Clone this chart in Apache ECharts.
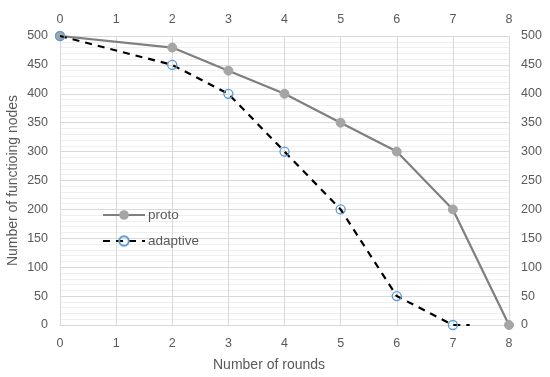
<!DOCTYPE html>
<html>
<head>
<meta charset="utf-8">
<script src="https://cdn.jsdelivr.net/npm/echarts@6/dist/echarts.min.js"></script>
<style>html,body{margin:0;padding:0;background:#fff}#c{width:550px;height:377px}</style>
</head>
<body>
<div id="c"></div>
<script>
const protoX = [0, 2, 3, 4, 5, 6, 7, 8];
const protoY = [500, 480, 440, 400, 350, 300, 200, 0];
const adaptiveX = [0, 2, 3, 4, 5, 6, 7, 7.3];
const adaptiveY = [500, 450, 400, 300, 200, 50, 0, 0];
const adaptiveMarker = [true, true, true, true, true, true, true, false];
const seriesNames = ['proto', 'adaptive'];
const xTitle = 'Number of rounds';
const yTitle = 'Number of functioing nodes';

const FONT = 'Liberation Sans';
const TXT = '#595959';
const chart = echarts.init(document.getElementById('c'), null, {renderer: 'canvas'});

const protoData = protoX.map((x, i) => [x, protoY[i]]);
const adaptiveData = adaptiveX.map((x, i) => adaptiveMarker[i]
  ? [x, adaptiveY[i]]
  : {value: [x, adaptiveY[i]], symbol: 'none'});

const labelStyle = {color: TXT, fontFamily: FONT, fontSize: 12.5};
const xBase = {
  type: 'value', min: 0, max: 8, interval: 1,
  axisLine: {show: true, lineStyle: {color: '#d9d9d9'}},
  splitLine: {show: true, lineStyle: {color: '#d9d9d9', width: 1}},
  axisLabel: Object.assign({margin: 12}, labelStyle)
};
const yBase = {
  type: 'value', min: 0, max: 500, interval: 50,
  axisLine: {show: true, lineStyle: {color: '#d9d9d9'}},
  splitLine: {show: true, lineStyle: {color: '#d9d9d9', width: 1}},
  minorTick: {show: false, splitNumber: 5},
  minorSplitLine: {show: true, lineStyle: {color: '#efefef', width: 1}},
  axisLabel: Object.assign({margin: 12}, labelStyle)
};

chart.setOption({
  animation: false,
  textStyle: {fontFamily: FONT},
  grid: {left: 60, right: 41, top: 36, bottom: 52, containLabel: false, outerBoundsMode: 'none'},
  xAxis: [
    Object.assign({}, xBase, {position: 'bottom', axisTick: {show: false}}),
    Object.assign({}, xBase, {position: 'top', axisTick: {show: true, length: 4, lineStyle: {color: '#d9d9d9'}},
      splitLine: {show: false}, axisLabel: Object.assign({margin: 10}, labelStyle)})
  ],
  yAxis: [
    Object.assign({}, yBase, {position: 'left', axisTick: {show: false},
      name: yTitle, nameLocation: 'middle', nameGap: 40, nameMoveOverlap: false,
      nameTextStyle: {color: TXT, fontFamily: FONT, fontSize: 14}}),
    Object.assign({}, yBase, {position: 'right', axisTick: {show: true, length: 4, lineStyle: {color: '#d9d9d9'}},
      splitLine: {show: false}, minorSplitLine: {show: false}, axisLabel: Object.assign({margin: 12}, labelStyle)})
  ],
  legend: {
    orient: 'vertical', left: 97, top: 203, itemWidth: 42, itemHeight: 12, itemGap: 12,
    textStyle: {color: TXT, fontFamily: FONT, fontSize: 13.5, padding: [0, 0, 0, -2]},
    data: seriesNames
  },
  graphic: [{
    type: 'text', left: 213, top: 358,
    style: {text: xTitle, fill: TXT, font: '14px "' + FONT + '"'}
  }],
  series: [
    {
      name: seriesNames[0], type: 'line', data: protoData, xAxisIndex: 0, yAxisIndex: 0,
      symbol: 'circle', symbolSize: 9, z: 2,
      lineStyle: {color: '#7f7f7f', width: 2.2},
      itemStyle: {color: '#a5a5a5', borderColor: '#a5a5a5'}
    },
    {
      name: seriesNames[1], type: 'line', data: adaptiveData, xAxisIndex: 0, yAxisIndex: 0,
      symbol: 'circle', symbolSize: 9, z: 3,
      lineStyle: {color: '#000000', width: 2.2, type: [7, 6]},
      itemStyle: {color: 'rgba(255,255,255,0)', borderColor: '#5b9bd5', borderWidth: 1.3}
    }
  ]
});
</script>
</body>
</html>
